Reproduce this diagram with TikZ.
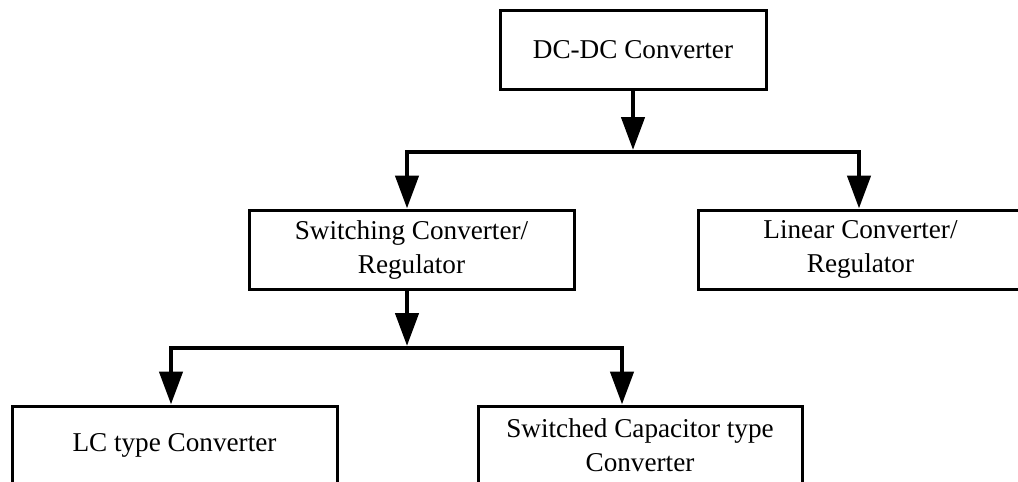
\documentclass[tikz,border=0pt]{standalone}
\usepackage{fontspec}
\setmainfont{Liberation Serif}
\usetikzlibrary{arrows.meta}

\tikzset{
  block/.style={draw, line width=1.5pt, inner sep=0pt, align=center,
    minimum width=162.5pt, minimum height=39.5pt,
    font=\fontsize{13.6}{17}\selectfont},
  link/.style={line width=2.3pt, line join=miter},
  tip/.style={-{Triangle[length=16.5pt, width=11.5pt]}},
  twotips/.style={{Triangle[length=16.5pt, width=11.5pt]}-{Triangle[length=16.5pt, width=11.5pt]}}
}

\begin{document}
\begin{tikzpicture}[x=0.5pt, y=-0.5pt]
  \useasboundingbox (0,0) rectangle (1018,482);
  \clip (0,0) rectangle (1018,482);

  % boxes
  \node[block, minimum width=133pt] (top) at (633,49.5) {DC-DC Converter};
  \node[block] (sw)  at (411.5,249.5) {Switching Converter/\\Regulator};
  \node[block] (lin) at (860.5,249.5) {Linear Converter/\\Regulator};
  \node[block] (lc)  at (174.5,445.5) {LC type Converter};
  \node[block, minimum width=162pt] (sc) at (640,445.5) {Switched Capacitor type\\Converter};

  % first level of branching
  \coordinate (joinA) at (633,150);
  \coordinate (leftA) at (407,152);
  \coordinate (rightA) at (859,152);
  \draw[link, tip] (top.south) -- (joinA);
  \draw[link, twotips] (sw.north -| leftA) |- (rightA) -- (lin.north -| rightA);

  % second level of branching
  \coordinate (joinB) at (407,346);
  \coordinate (leftB) at (171,348);
  \coordinate (rightB) at (622,348);
  \draw[link, tip] (sw.south -| joinB) -- (joinB);
  \draw[link, twotips] (lc.north -| leftB) |- (rightB) -- (sc.north -| rightB);
\end{tikzpicture}
\end{document}
